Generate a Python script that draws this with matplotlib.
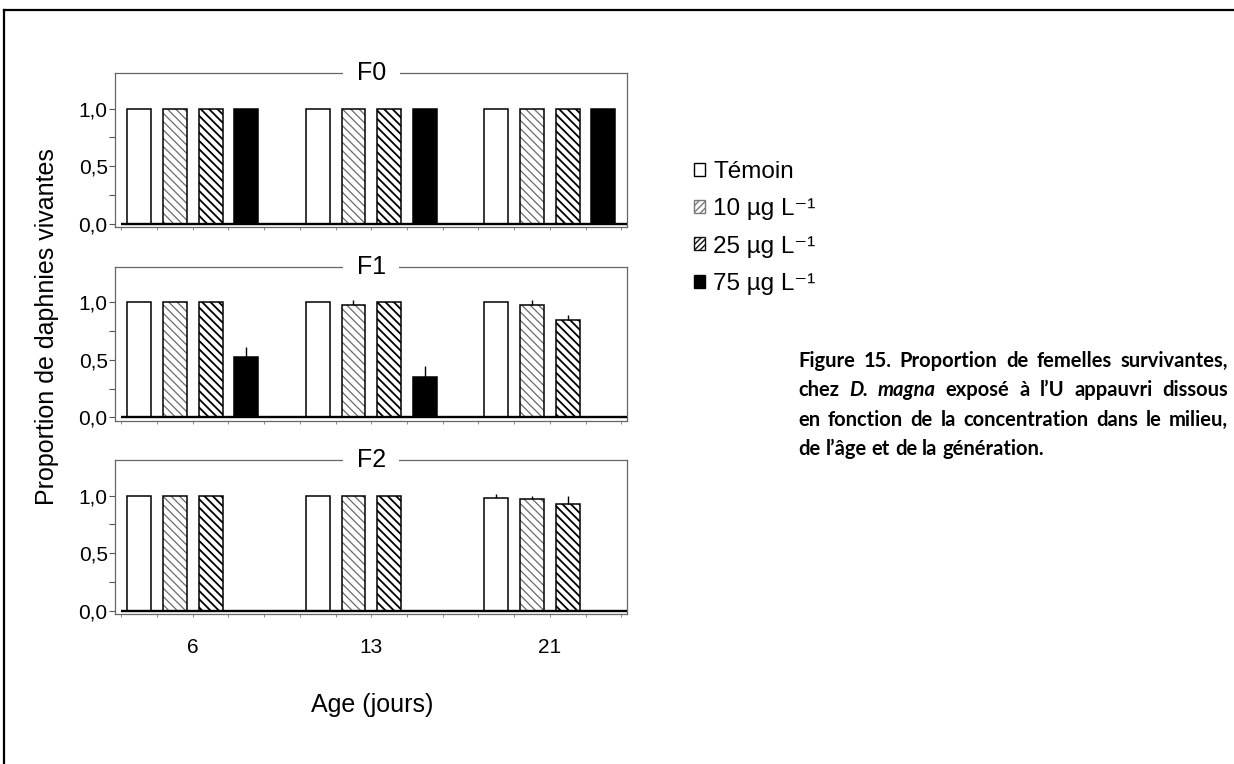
import numpy as np
import matplotlib
matplotlib.use('Agg')
import matplotlib.pyplot as plt
from matplotlib.lines import Line2D
from matplotlib.patches import Patch

plt.rcParams['font.family'] = ['Liberation Sans', 'DejaVu Sans']

# data
ages = ['6', '13', '21']
generations = ['F0', 'F1', 'F2']
series_labels = ['Témoin', '10 µg L⁻¹', '25 µg L⁻¹', '75 µg L⁻¹']

# rows = series (Témoin, 10, 25, 75), columns = age; nan = no data
f0_means = [[1.0, 1.0, 1.0], [1.0, 1.0, 1.0], [1.0, 1.0, 1.0], [1.0, 1.0, 1.0]]
f0_errs = [[0, 0, 0], [0, 0, 0], [0, 0, 0], [0, 0, 0]]
f1_means = [[1.0, 1.0, 1.0], [1.0, 0.98, 0.98], [1.0, 1.0, 0.85], [0.52, 0.35, np.nan]]
f1_errs = [[0, 0, 0], [0, 0.04, 0.04], [0, 0, 0.04], [0.09, 0.10, 0]]
f2_means = [[1.0, 1.0, 0.98], [1.0, 1.0, 0.97], [1.0, 1.0, 0.93], [np.nan, np.nan, np.nan]]
f2_errs = [[0, 0, 0.03], [0, 0, 0.03], [0, 0, 0.065], [0, 0, 0]]

all_means = [f0_means, f1_means, f2_means]
all_errs = [f0_errs, f1_errs, f2_errs]

# bar look per series: face, hatch, hatch colour, hatch width
styles = [
    ('white', None, None, None),
    ('white', '\\\\\\\\', '#6a6a6a', 0.9),
    ('white', '\\\\\\\\', 'black', 1.3),
    ('black', None, None, None),
]

W, H = 1234, 764
fig = plt.figure(figsize=(W / 100, H / 100), dpi=100)

slots = 5          # 4 bars + 1 gap per age
bar_w = 0.67
ax_left = 115.3 / W
ax_w = (627 - 115.3) / W
ax_h = 154 / H
tops = [73, 266.7, 460]

for g, gen in enumerate(generations):
    ax = fig.add_axes([ax_left, 1 - (tops[g] + 154) / H, ax_w, ax_h])
    for s in range(4):
        x = np.arange(len(ages)) * slots + s + 0.5
        m = np.array(all_means[g][s], dtype=float)
        e = np.array(all_errs[g][s], dtype=float)
        ok = ~np.isnan(m)
        fc, hatch, hc, hlw = styles[s]
        if hatch:
            with plt.rc_context({'hatch.linewidth': hlw}):
                bars = ax.bar(x[ok], m[ok], width=bar_w, color='white', edgecolor=hc,
                              hatch=hatch, linewidth=0, zorder=2)
            for b in bars:
                if hasattr(b, 'set_hatch_linewidth'):
                    b.set_hatch_linewidth(hlw)
            ax.bar(x[ok], m[ok], width=bar_w, facecolor='none', edgecolor='black',
                   linewidth=1.1, zorder=3)
        else:
            ax.bar(x[ok], m[ok], width=bar_w, facecolor=fc, edgecolor='black',
                   linewidth=1.1, zorder=3)
        eb = ok & (e > 0)
        if eb.any():
            ax.errorbar(x[eb], m[eb], yerr=[np.zeros(eb.sum()), e[eb]], fmt='none',
                        ecolor='black', elinewidth=1.0, capsize=0, zorder=4)

    xmax = len(ages) * slots - 1 + 0.16
    ax.set_xlim(-0.17, xmax)
    ax.set_ylim(-0.03, 1.31)
    ax.hlines(0, 0, xmax, color='black', lw=1.7, zorder=5)

    for sp in ax.spines.values():
        sp.set_color('#666666')
        sp.set_linewidth(0.9)

    ax.set_yticks([0, 0.5, 1.0])
    ax.set_yticklabels(['0,0', '0,5', '1,0'])
    ax.set_yticks([0.25, 0.75], minor=True)
    ax.tick_params(axis='y', which='both', direction='out', length=4, width=0.8,
                   color='#555555', pad=1.5, labelsize=15)

    ax.xaxis.remove_overlapping_locs = False
    ax.set_xticks(np.arange(0, len(ages) * slots))
    ax.set_xticklabels([])
    ax.tick_params(axis='x', which='major', direction='out', length=2, width=0.7,
                   color='#888888')
    ax.set_xticks(np.arange(len(ages)) * slots + 2, minor=True)
    if g == len(generations) - 1:
        ax.set_xticklabels(ages, minor=True)
    ax.tick_params(axis='x', which='minor', length=0, pad=17, labelsize=15)

    ax.text(0.5, 1.0, gen, transform=ax.transAxes, ha='center', va='center',
            fontsize=18, bbox=dict(boxstyle='square,pad=0.55', facecolor='white',
                                   edgecolor='none'), zorder=10)

fig.text(47 / W, 1 - 327 / H, 'Proportion de daphnies vivantes', rotation=90,
         ha='center', va='center', fontsize=18)
fig.text(372 / W, 1 - 705 / H, 'Age (jours)', ha='center', va='center', fontsize=18)

# legend
handles = [
    Patch(facecolor='white', edgecolor='black', linewidth=1.0),
    Patch(facecolor='white', edgecolor='#777777', hatch='/////', linewidth=1.0),
    Patch(facecolor='white', edgecolor='#111111', hatch='//////', linewidth=1.0),
    Patch(facecolor='black', edgecolor='black', linewidth=1.0),
]
fig.legend(handles, series_labels, loc='upper left', bbox_to_anchor=(694 / W, 1 - 161 / H),
           frameon=False, fontsize=17.5, handlelength=0.45, handleheight=0.45,
           handletextpad=0.35, labelspacing=0.63, borderaxespad=0, borderpad=0)

# page frame
fig.add_artist(Line2D([4 / W, 1], [1 - 10 / H, 1 - 10 / H], transform=fig.transFigure,
                      color='black', lw=1.6))
fig.add_artist(Line2D([4 / W, 4 / W], [0, 1 - 10 / H], transform=fig.transFigure,
                      color='black', lw=1.6))

# justified caption
caption = [
    [('Figure', 'normal'), ('15.', 'normal'), ('Proportion', 'normal'), ('de', 'normal'),
     ('femelles', 'normal'), ('survivantes,', 'normal')],
    [('chez', 'normal'), ('D.', 'italic'), ('magna', 'italic'), ('exposé', 'normal'),
     ('à', 'normal'), ('l’U', 'normal'), ('appauvri', 'normal'), ('dissous', 'normal')],
    [('en', 'normal'), ('fonction', 'normal'), ('de', 'normal'), ('la', 'normal'),
     ('concentration', 'normal'), ('dans', 'normal'), ('le', 'normal'), ('milieu,', 'normal')],
    [('de', 'normal'), ('l’âge', 'normal'), ('et', 'normal'), ('de', 'normal'), ('la', 'normal'),
     ('génération.', 'normal')],
]
cap_x0, cap_x1 = 798, 1228
cap_y = [361, 390.5, 420, 449]
cap_size = 14.5
renderer = fig.canvas.get_renderer()
rows = []
for i, words in enumerate(caption):
    texts = [fig.text(0, 1 - cap_y[i] / H, w, fontsize=cap_size, fontweight='bold', style=st,
                      family=['Lato', 'DejaVu Sans'], va='center', ha='left')
             for w, st in words]
    rows.append(texts)
for i, texts in enumerate(rows):
    widths = [t.get_window_extent(renderer).width for t in texts]
    if i < len(rows) - 1:
        gap = (cap_x1 - cap_x0 - sum(widths)) / (len(texts) - 1)
    else:
        gap = 5
    x = cap_x0
    for t, w in zip(texts, widths):
        t.set_x(x / W)
        x += w + gap

fig.savefig('out.png', dpi=100)
